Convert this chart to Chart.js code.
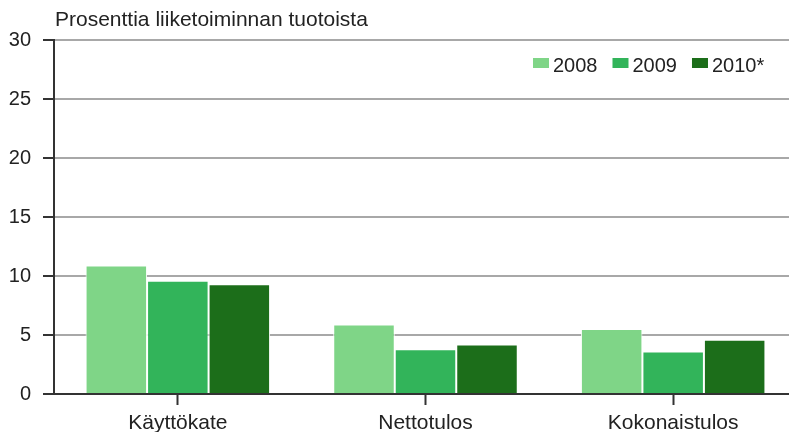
<!DOCTYPE html>
<html>
<head>
<meta charset="utf-8">
<script src="https://cdn.jsdelivr.net/npm/chart.js"></script>
<style>
  html, body { margin: 0; padding: 0; background: #fff; overflow: hidden; }
  #wrap { width: 798px; height: 432px; }
</style>
</head>
<body>
<div id="wrap"><canvas id="tulos-chart"></canvas></div>
<script>
var categories = ['Käyttökate', 'Nettotulos', 'Kokonaistulos'];
var seriesLabels = ['2008', '2009', '2010*'];
var values2008 = [10.9, 5.9, 5.5];
var values2009 = [9.6, 3.8, 3.6];
var values2010 = [9.3, 4.2, 4.6];
var yTicks = [0, 5, 10, 15, 20, 25, 30];
var unitTitle = 'Prosenttia liiketoiminnan tuotoista';

var colors = ['#7fd587', '#32b45a', '#1c6e1a'];
var fontFamily = '"Liberation Sans", Arial, sans-serif';

// title and legend drawn inside the plot, like the original
var overlay = {
    id: 'overlay',
    afterDraw: function(chart) {
        var c = chart.ctx;
        var area = chart.chartArea;
        c.save();
        c.font = '21px ' + fontFamily;
        c.fillStyle = '#222';
        c.textBaseline = 'middle';
        c.textAlign = 'left';
        c.fillText(unitTitle, area.left + 1, 20);

        // legend, right side
        c.font = '20px ' + fontFamily;
        var x = 533;
        chart.data.datasets.forEach(function(ds) {
            c.fillStyle = ds.backgroundColor;
            c.fillRect(x, 58, 16, 10);
            c.fillStyle = '#222';
            c.fillText(ds.label, x + 20, 66);
            x += 20 + c.measureText(ds.label).width + 15;
        });
        c.restore();
    }
};

var ctx = document.getElementById('tulos-chart').getContext('2d');
var tulosChart = new Chart(ctx, {
    type: 'bar',
    data: {
        labels: categories,
        datasets: [
            { label: seriesLabels[0], data: values2008, backgroundColor: colors[0] },
            { label: seriesLabels[1], data: values2009, backgroundColor: colors[1] },
            { label: seriesLabels[2], data: values2010, backgroundColor: colors[2] }
        ]
    },
    options: {
        responsive: true,
        maintainAspectRatio: false,
        animation: false,
        layout: { padding: { top: 40, right: 1, left: 0, bottom: 0 } },
        datasets: {
            bar: {
                categoryPercentage: 0.745,
                barPercentage: 1.0,
                borderColor: '#ffffff',
                borderWidth: 1
            }
        },
        scales: {
            x: {
                afterFit: function(axis) { axis.height = 38; },
                grid: {
                    offset: false,
                    drawOnChartArea: false,
                    tickLength: 11,
                    tickColor: '#333',
                    tickWidth: 2
                },
                border: { color: '#333', width: 2 },
                ticks: {
                    color: '#222',
                    padding: 6,
                    font: { family: fontFamily, size: 21 }
                }
            },
            y: {
                min: 0,
                max: 30,
                afterFit: function(axis) { axis.width = 54; },
                afterBuildTicks: function(axis) {
                    axis.ticks = yTicks.map(function(v) { return { value: v }; });
                },
                grid: {
                    color: '#a8a8a8',
                    lineWidth: 2,
                    tickLength: 11,
                    tickColor: '#333',
                    tickWidth: 2
                },
                border: { color: '#333', width: 2 },
                ticks: {
                    color: '#222',
                    padding: 12,
                    font: { family: fontFamily, size: 20 }
                }
            }
        },
        plugins: {
            legend: { display: false },
            title: { display: false },
            tooltip: { enabled: false }
        }
    },
    plugins: [overlay]
});
</script>
</body>
</html>
